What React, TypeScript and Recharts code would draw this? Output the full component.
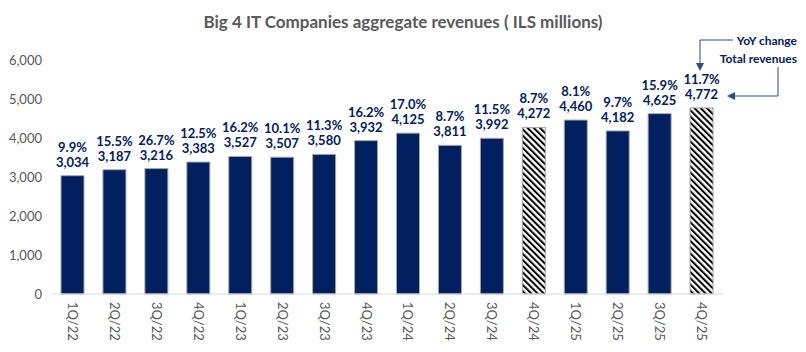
import { Bar, BarChart, Cell, LabelList, XAxis, YAxis } from "recharts";

const quarters = ["1Q/22", "2Q/22", "3Q/22", "4Q/22", "1Q/23", "2Q/23", "3Q/23", "4Q/23", "1Q/24", "2Q/24", "3Q/24", "4Q/24", "1Q/25", "2Q/25", "3Q/25", "4Q/25"];
const revenues = [3034, 3187, 3216, 3383, 3527, 3507, 3580, 3932, 4125, 3811, 3992, 4272, 4460, 4182, 4625, 4772];
const yoyChange = [9.9, 15.5, 26.7, 12.5, 16.2, 10.1, 11.3, 16.2, 17.0, 8.7, 11.5, 8.7, 8.1, 9.7, 15.9, 11.7];
const hatchedQuarters = ["4Q/24", "4Q/25"];
const yTicks = [0, 1000, 2000, 3000, 4000, 5000, 6000];

const data = quarters.map((q, i) => ({ quarter: q, revenue: revenues[i], yoy: yoyChange[i] }));

const NAVY = "#002060";
const GRAY = "#595959";
const FONT = "Lato, 'Open Sans', sans-serif";

const QuarterTick = (props: any) => {
  const { x, y, payload } = props;
  return (
    <text
      x={x}
      y={y}
      transform={`rotate(90, ${x}, ${y})`}
      textAnchor="start"
      dominantBaseline="central"
      fontSize={13}
      fontFamily={FONT}
      fill={GRAY}
    >
      {payload.value}
    </text>
  );
};

const TwoLineLabel = (props: any) => {
  const { x, y, width, index } = props;
  const cx = x + width / 2;
  return (
    <g fontFamily={FONT} fontWeight={700} fontSize={13} fill={NAVY} textAnchor="middle">
      <text x={cx} y={y - 29} dominantBaseline="central">{yoyChange[index].toFixed(1)}%</text>
      <text x={cx} y={y - 14} dominantBaseline="central">{revenues[index].toLocaleString("en-US")}</text>
    </g>
  );
};

export default function App() {
  return (
    <div style={{ position: "absolute", left: 0, top: 0, width: 806, height: 352, background: "#fff" }}>
      <svg width={0} height={0} style={{ position: "absolute" }}>
        <defs>
          <pattern id="hatch" patternUnits="userSpaceOnUse" width={4.4} height={4.4} patternTransform="rotate(-45)">
            <rect x={0} y={0} width={4.4} height={4.4} fill="#fff" />
            <rect x={0} y={0} width={2} height={4.4} fill="#000" />
          </pattern>
        </defs>
      </svg>
      <BarChart width={806} height={352} data={data} margin={{ top: 60, right: 83, bottom: 0, left: 0 }}>
        <YAxis
          domain={[0, 6000]}
          ticks={yTicks}
          axisLine={false}
          tickLine={false}
          width={52}
          tickMargin={4}
          tickFormatter={(v: number) => v.toLocaleString("en-US")}
          tick={{ fill: GRAY, fontSize: 13, fontFamily: FONT }}
        />
        <XAxis
          dataKey="quarter"
          height={58}
          interval={0}
          tickLine={false}
          axisLine={{ stroke: "#d9d9d9" }}
          tick={<QuarterTick />}
        />
        <Bar dataKey="revenue" barSize={23} stroke="#a6a6a6" strokeWidth={1} isAnimationActive={false}>
          {data.map((d) => (
            <Cell key={d.quarter} fill={hatchedQuarters.includes(d.quarter) ? "url(#hatch)" : NAVY} />
          ))}
          <LabelList dataKey="revenue" content={<TwoLineLabel />} />
        </Bar>
      </BarChart>
      <svg width={806} height={352} style={{ position: "absolute", left: 0, top: 0, pointerEvents: "none" }}>
        <defs>
          <marker id="arrow" markerWidth={8} markerHeight={8} refX={6} refY={4} orient="auto" markerUnits="userSpaceOnUse">
            <path d="M0,0 L8,4 L0,8 Z" fill="#2f4a8a" />
          </marker>
        </defs>
        <text x={403} y={21} textAnchor="middle" dominantBaseline="central" fontFamily={FONT} fontWeight={700} fontSize={17} fill={GRAY}>
          Big 4 IT Companies aggregate revenues ( ILS millions)
        </text>
        <text x={797} y={40} textAnchor="end" dominantBaseline="central" fontFamily={FONT} fontWeight={700} fontSize={12} fill={NAVY}>
          YoY change
        </text>
        <text x={797} y={58} textAnchor="end" dominantBaseline="central" fontFamily={FONT} fontWeight={700} fontSize={12} fill={NAVY}>
          Total revenues
        </text>
        <polyline points="733,40 700,40 700,69" fill="none" stroke="#2f4a8a" strokeWidth={1} markerEnd="url(#arrow)" />
        <polyline points="778,67 778,96 729,96" fill="none" stroke="#2f4a8a" strokeWidth={1} markerEnd="url(#arrow)" />
      </svg>
    </div>
  );
}
